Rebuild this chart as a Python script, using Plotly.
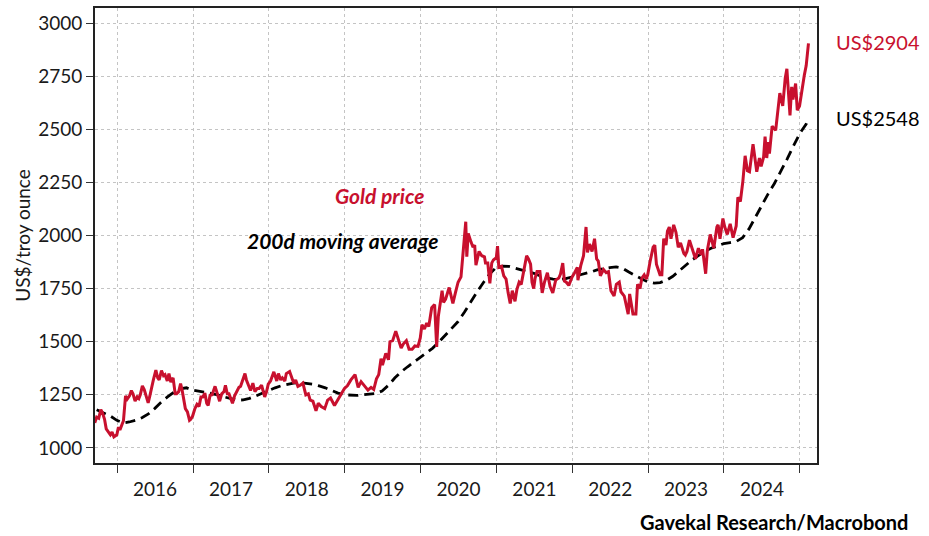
import plotly.graph_objects as go

# ---------------- data ----------------
gold_dates = [
"2015-09-16","2015-09-25","2015-10-05","2015-10-15","2015-10-23","2015-11-02","2015-11-10","2015-11-20","2015-11-30",
"2015-12-08","2015-12-17","2015-12-31",
"2016-01-08","2016-01-15","2016-01-25","2016-02-01","2016-02-11","2016-02-19","2016-03-01","2016-03-10","2016-03-18",
"2016-03-28","2016-04-07","2016-04-15","2016-04-22","2016-05-02","2016-05-11","2016-05-20","2016-05-30","2016-06-07",
"2016-06-16","2016-06-24","2016-07-06","2016-07-15","2016-07-22","2016-08-02","2016-08-12","2016-08-19","2016-08-30",
"2016-09-07","2016-09-16","2016-09-27","2016-10-07","2016-10-14","2016-10-24","2016-11-02","2016-11-09","2016-11-16",
"2016-11-25","2016-12-05","2016-12-15","2016-12-21","2016-12-30",
"2017-01-10","2017-01-20","2017-01-30","2017-02-08","2017-02-17","2017-02-27","2017-03-08","2017-03-15","2017-03-24",
"2017-04-03","2017-04-17","2017-04-26","2017-05-09","2017-05-19","2017-05-30","2017-06-06","2017-06-15","2017-06-23",
"2017-07-03","2017-07-10","2017-07-20","2017-07-31","2017-08-10","2017-08-18","2017-08-29","2017-09-08","2017-09-15",
"2017-09-26","2017-10-05","2017-10-16","2017-10-26","2017-11-06","2017-11-15","2017-11-27","2017-12-07","2017-12-12",
"2017-12-21","2017-12-29",
"2018-01-09","2018-01-25","2018-02-08","2018-02-16","2018-02-27","2018-03-07","2018-03-19","2018-03-26","2018-04-11",
"2018-04-20","2018-05-01","2018-05-10","2018-05-21","2018-06-01","2018-06-14","2018-06-28","2018-07-10","2018-07-19",
"2018-08-01","2018-08-16","2018-08-27","2018-09-10","2018-09-27","2018-10-11","2018-10-25","2018-11-13","2018-11-26",
"2018-12-10","2018-12-20","2018-12-31",
"2019-01-14","2019-01-31","2019-02-20","2019-03-07","2019-03-21","2019-04-05","2019-04-23","2019-05-08","2019-05-21",
"2019-06-03","2019-06-14","2019-06-25","2019-07-02","2019-07-18","2019-07-31","2019-08-07","2019-08-20","2019-09-04",
"2019-09-18","2019-09-30","2019-10-11","2019-10-25","2019-11-07","2019-11-22","2019-12-05","2019-12-20","2019-12-31",
"2020-01-08","2020-01-20","2020-01-31","2020-02-10","2020-02-24","2020-03-09","2020-03-13","2020-03-19","2020-03-27",
"2020-04-14","2020-04-21","2020-05-01","2020-05-18","2020-05-28","2020-06-05","2020-06-17","2020-06-30","2020-07-14",
"2020-07-27","2020-08-06","2020-08-11","2020-08-18","2020-08-31","2020-09-10","2020-09-18","2020-09-24","2020-10-09",
"2020-10-22","2020-11-04","2020-11-09","2020-11-20","2020-11-30","2020-12-09","2020-12-17","2020-12-31",
"2021-01-06","2021-01-12","2021-01-25","2021-02-05","2021-02-16","2021-02-26","2021-03-08","2021-03-18","2021-03-31",
"2021-04-09","2021-04-20","2021-04-30","2021-05-12","2021-05-26","2021-06-04","2021-06-14","2021-06-21","2021-06-29",
"2021-07-06","2021-07-15","2021-07-29","2021-08-09","2021-08-20","2021-09-03","2021-09-16","2021-09-29","2021-10-13",
"2021-10-28","2021-11-05","2021-11-16","2021-11-24","2021-12-03","2021-12-15","2021-12-31",
"2022-01-12","2022-01-25","2022-01-28","2022-02-11","2022-02-24","2022-03-08","2022-03-15","2022-03-25","2022-04-06",
"2022-04-18","2022-04-28","2022-05-06","2022-05-16","2022-05-31","2022-06-13","2022-06-24","2022-07-06","2022-07-21",
"2022-08-01","2022-08-15","2022-08-23","2022-09-08","2022-09-27","2022-10-04","2022-10-20","2022-11-03","2022-11-11",
"2022-11-23","2022-12-02","2022-12-13","2022-12-23","2022-12-30",
"2023-01-10","2023-01-25","2023-02-02","2023-02-10","2023-02-27","2023-03-08","2023-03-17","2023-03-28","2023-04-04",
"2023-04-13","2023-04-21","2023-05-04","2023-05-15","2023-05-26","2023-06-06","2023-06-22","2023-06-29","2023-07-07",
"2023-07-19","2023-08-02","2023-08-17","2023-08-31","2023-09-13","2023-09-20","2023-10-05","2023-10-13","2023-10-27",
"2023-11-13","2023-11-28","2023-12-04","2023-12-13","2023-12-27",
"2024-01-05","2024-01-17","2024-01-31","2024-02-14","2024-02-29","2024-03-08","2024-03-20","2024-04-01","2024-04-12",
"2024-04-23","2024-05-03","2024-05-20","2024-05-30","2024-06-07","2024-06-20","2024-06-28","2024-07-10","2024-07-17",
"2024-07-25","2024-08-02","2024-08-07","2024-08-20","2024-09-06","2024-09-20","2024-09-26","2024-10-10","2024-10-22",
"2024-10-30","2024-11-06","2024-11-14","2024-11-22","2024-11-28","2024-12-11","2024-12-19","2024-12-30",
"2025-01-10","2025-01-22","2025-01-31","2025-02-05","2025-02-11",
]
gold_values = [
1118,1145,1140,1180,1165,1135,1090,1075,1062,
1075,1052,1062,
1098,1085,1110,1128,1245,1230,1245,1270,1255,
1220,1240,1232,1250,1292,1275,1250,1212,1245,
1290,1320,1366,1330,1320,1364,1340,1345,1315,
1350,1310,1330,1255,1255,1265,1303,1275,1225,
1185,1170,1130,1135,1150,
1185,1205,1195,1240,1240,1258,1210,1200,1248,
1250,1290,1265,1220,1255,1265,1295,1255,1255,
1222,1210,1245,1268,1285,1290,1320,1350,1320,
1295,1270,1305,1265,1280,1280,1295,1250,1240,
1265,1300,
1315,1358,1315,1350,1320,1330,1315,1350,1360,
1335,1305,1320,1290,1295,1305,1250,1255,1225,
1220,1175,1210,1195,1185,1225,1235,1200,1222,
1245,1260,1280,
1292,1320,1345,1285,1312,1292,1272,1285,1275,
1325,1345,1420,1390,1445,1415,1500,1505,1550,
1500,1470,1490,1505,1465,1465,1480,1478,1518,
1580,1560,1588,1572,1660,1675,1560,1475,1620,
1740,1685,1700,1755,1710,1680,1730,1780,1805,
1940,2065,1900,2010,1970,1945,1955,1860,1925,
1905,1900,1870,1870,1775,1870,1885,1895,
1950,1850,1855,1810,1795,1730,1680,1740,1690,
1745,1780,1770,1835,1905,1890,1865,1780,1750,
1800,1830,1830,1730,1780,1825,1760,1730,1790,
1800,1818,1870,1785,1780,1765,1805,
1825,1850,1790,1860,1905,2040,1920,1960,1925,
1985,1890,1880,1810,1840,1825,1830,1740,1715,
1770,1780,1735,1715,1630,1725,1630,1630,1770,
1750,1800,1815,1795,1815,
1875,1945,1955,1865,1815,1815,1985,1955,2020,
2040,1985,2050,2015,1945,1965,1915,1908,1925,
1978,1935,1890,1940,1910,1935,1820,1930,2005,
1940,2040,2050,1985,2080,
2040,2005,2055,1990,2045,2180,2160,2255,2375,
2305,2300,2430,2340,2300,2365,2325,2370,2465,
2365,2440,2385,2515,2495,2620,2670,2610,2740,
2785,2660,2565,2700,2640,2715,2590,2610,
2690,2755,2800,2865,2904,
]

ma_dates = [
"2015-09-25","2015-10-31","2015-11-30","2015-12-31",
"2016-01-31","2016-02-29","2016-03-31","2016-04-30","2016-05-31","2016-06-30",
"2016-07-31","2016-08-31","2016-09-30","2016-10-31","2016-11-30","2016-12-31",
"2017-01-31","2017-02-28","2017-03-31","2017-04-30","2017-05-31","2017-06-30",
"2017-07-31","2017-08-31","2017-09-30","2017-10-31","2017-11-30","2017-12-31",
"2018-01-31","2018-02-28","2018-03-31","2018-04-30","2018-05-31","2018-06-30",
"2018-07-31","2018-08-31","2018-09-30","2018-10-31","2018-11-30","2018-12-31",
"2019-01-31","2019-02-28","2019-03-31","2019-04-30","2019-05-31","2019-06-30",
"2019-07-31","2019-08-31","2019-09-30","2019-10-31","2019-11-30","2019-12-31",
"2020-01-31","2020-02-29","2020-03-31","2020-04-30","2020-05-31","2020-06-30",
"2020-07-31","2020-08-31","2020-09-30","2020-10-31","2020-11-30","2020-12-31",
"2021-01-31","2021-02-28","2021-03-31","2021-04-30","2021-05-31","2021-06-30",
"2021-07-31","2021-08-31","2021-09-30","2021-10-31","2021-11-30","2021-12-31",
"2022-01-31","2022-02-28","2022-03-31","2022-04-30","2022-05-31","2022-06-30",
"2022-07-31","2022-08-31","2022-09-30","2022-10-31","2022-11-30","2022-12-31",
"2023-01-31","2023-02-28","2023-03-31","2023-04-30","2023-05-31","2023-06-30",
"2023-07-31","2023-08-31","2023-09-30","2023-10-31","2023-11-30","2023-12-31",
"2024-01-31","2024-02-29","2024-03-31","2024-04-30","2024-05-31","2024-06-30",
"2024-07-31","2024-08-31","2024-09-30","2024-10-31","2024-11-30","2024-12-31",
"2025-01-31","2025-02-11",
]
ma_values = [
1180,1165,1150,1130,
1118,1122,1130,1142,1160,1185,
1215,1240,1262,1278,1283,1272,
1265,1262,1256,1250,1240,1232,
1225,1226,1233,1245,1258,1270,
1283,1292,1300,1305,1307,1305,
1300,1292,1283,1270,1258,1250,
1247,1247,1250,1253,1256,1268,
1295,1330,1358,1382,1403,1425,
1448,1470,1500,1530,1565,1595,
1640,1690,1735,1780,1820,1850,
1856,1855,1845,1838,1830,1822,
1810,1800,1795,1792,1797,1805,
1810,1818,1828,1838,1845,1849,
1852,1846,1828,1810,1796,1782,
1776,1778,1790,1808,1835,1860,
1885,1905,1925,1940,1950,1962,
1967,1972,1990,2030,2085,2140,
2195,2245,2300,2360,2420,2480,
2525,2548,
]

y_ticks = [1000, 1250, 1500, 1750, 2000, 2250, 2500, 2750, 3000]
last_gold_label = "US$2904"
last_ma_label = "US$2548"

RED = "#C8102E"
FONT = "Lato"

fig = go.Figure()
fig.add_trace(go.Scatter(x=ma_dates, y=ma_values, mode="lines",
                         line=dict(color="black", width=2.8, dash="10px,6px"),
                         name="200d moving average", hoverinfo="skip"))
fig.add_trace(go.Scatter(x=gold_dates, y=gold_values, mode="lines",
                         line=dict(color=RED, width=3),
                         name="Gold price"))

fig.update_layout(
    width=929, height=536,
    margin=dict(l=95, r=112, t=8, b=73, autoexpand=False),
    paper_bgcolor="white", plot_bgcolor="white",
    showlegend=False,
    font=dict(family=FONT, size=19, color="#1a1a1a"),
)
fig.update_xaxes(
    type="date", range=["2015-09-17", "2025-03-24"],
    tick0="2016-01-01", dtick="M12", tickformat="%Y", ticklabelmode="period",
    ticks="outside", ticklen=8, tickwidth=1.2, tickcolor="#333",
    showgrid=True, gridcolor="#c4c4c4", griddash="dot", gridwidth=1,
    showline=True, linecolor="#222", linewidth=1.6, mirror=True,
    tickfont=dict(family=FONT, size=19, color="#1a1a1a"),
    zeroline=False,
)
fig.update_yaxes(
    range=[929, 3071], tickvals=y_ticks,
    ticks="outside", ticklen=7, tickwidth=1.2, tickcolor="#333",
    showgrid=True, gridcolor="#c4c4c4", griddash="dot", gridwidth=1,
    showline=True, linecolor="#222", linewidth=1.6, mirror=True,
    tickfont=dict(family=FONT, size=19, color="#1a1a1a"),
    title=dict(text="US$/troy ounce", font=dict(family=FONT, size=19, color="#1a1a1a"), standoff=3),
    zeroline=False, automargin=False,
)

fig.add_annotation(x="2019-06-20", y=2189, xref="x", yref="y", text="<b><i>Gold price</i></b>",
                   showarrow=False, font=dict(family=FONT, size=21, color=RED))
fig.add_annotation(x="2018-12-20", y=1976, xref="x", yref="y", text="<b><i>200d moving average</i></b>",
                   showarrow=False, font=dict(family=FONT, size=21, color="black"))
fig.add_annotation(x=1.023, y=2910, xref="paper", yref="y", text=last_gold_label,
                   showarrow=False, xanchor="left", font=dict(family=FONT, size=20, color=RED))
fig.add_annotation(x=1.023, y=2552, xref="paper", yref="y", text=last_ma_label,
                   showarrow=False, xanchor="left", font=dict(family=FONT, size=20, color="black"))
fig.add_annotation(x=1.129, y=-0.13, xref="paper", yref="paper", text="<b>Gavekal Research/Macrobond</b>",
                   showarrow=False, xanchor="right", yanchor="middle",
                   font=dict(family=FONT, size=20, color="black"))

fig.write_html("out.html", config={"displayModeBar": False},
               post_script="document.body.style.margin='0';document.body.style.overflow='hidden';")
